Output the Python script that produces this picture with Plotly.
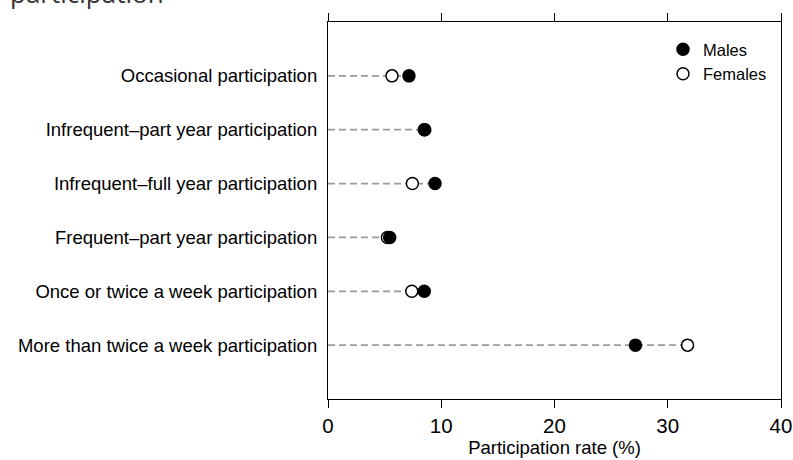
import plotly.graph_objects as go

categories = [
    "More than twice a week participation",
    "Once or twice a week participation",
    "Frequent\u2013part year participation",
    "Infrequent\u2013full year participation",
    "Infrequent\u2013part year participation",
    "Occasional participation",
]
males = [27.15, 8.5, 5.45, 9.45, 8.5, 7.15]
females = [31.75, 7.4, 5.25, 7.45, 8.55, 5.65]
x_ticks = [0, 10, 20, 30, 40]

FONT = "Liberation Sans, Arial, sans-serif"

W, H = 793, 460
L, R, T, B = 328, 12, 22, 61
PH = H - T - B
PW = W - L - R

fig = go.Figure()
ypos = list(range(len(categories)))

for i, (m, f) in enumerate(zip(males, females)):
    fig.add_trace(go.Scatter(
        x=[0, max(m, f)], y=[i, i], mode="lines",
        line=dict(color="#9a9a9a", width=1.8, dash="7px,4px"),
        showlegend=False, hoverinfo="skip",
    ))

fig.add_trace(go.Scatter(
    x=females, y=ypos, mode="markers", name="Females",
    marker=dict(size=12, color="white", symbol="circle",
                line=dict(color="black", width=1.5)),
))
fig.add_trace(go.Scatter(
    x=males, y=ypos, mode="markers", name="Males",
    marker=dict(size=12, color="black", symbol="circle",
                line=dict(color="black", width=1.5)),
))

fig.update_layout(
    width=W, height=H,
    margin=dict(l=L, r=R, t=T, b=B, autoexpand=False),
    plot_bgcolor="white", paper_bgcolor="white",
    font=dict(family=FONT, size=18, color="black"),
    legend=dict(x=1 - 9 / PW, y=1 - 10 / PH, xanchor="right", yanchor="top",
                traceorder="reversed", bgcolor="rgba(0,0,0,0)",
                font=dict(size=16.5), itemwidth=30, tracegroupgap=0),
    xaxis=dict(
        range=[0, 40], tickvals=x_ticks, automargin=False,
        showline=True, linecolor="black", linewidth=1.2, mirror="ticks",
        ticks="outside", ticklen=8, tickcolor="black", tickwidth=1.2,
        showgrid=False, zeroline=False,
        tickfont=dict(size=20.5),
        title=dict(text="Participation rate (%)", font=dict(size=18.5), standoff=4),
    ),
    yaxis=dict(
        range=[-1, 6], tickvals=ypos, ticktext=categories, automargin=False,
        showline=True, linecolor="black", linewidth=1.2, mirror=True,
        ticks="", showgrid=False, zeroline=False,
        tickfont=dict(size=18.5), ticklabelstandoff=6,
    ),
    annotations=[dict(
        text="participation", xref="paper", yref="paper",
        x=(8 - L) / PW, y=1 + (T - 13) / PH, xanchor="left", yanchor="bottom",
        showarrow=False, font=dict(family="Open Sans, sans-serif", size=26, color="#333"),
    )],
)

fig.write_html(
    "out.html",
    config={"displayModeBar": False},
    post_script="document.body.style.margin='0';document.documentElement.style.overflow='hidden';",
)
